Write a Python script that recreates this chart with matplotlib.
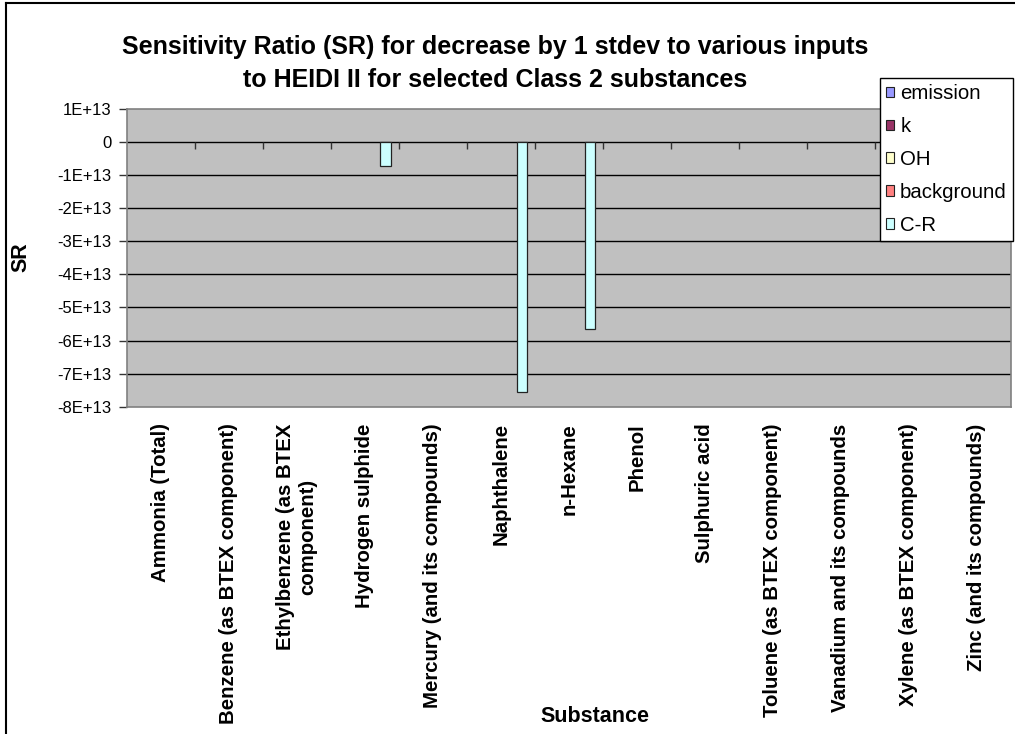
import matplotlib
matplotlib.use("Agg")
import matplotlib.pyplot as plt
from matplotlib.lines import Line2D
from matplotlib.patches import Patch
from matplotlib.ticker import FuncFormatter, FixedLocator
import numpy as np

plt.rcParams['font.family'] = ['Liberation Sans', 'DejaVu Sans']

substances = [
    "Ammonia (Total)",
    "Benzene (as BTEX component)",
    "Ethylbenzene (as BTEX\ncomponent)",
    "Hydrogen sulphide",
    "Mercury (and its compounds)",
    "Naphthalene",
    "n-Hexane",
    "Phenol",
    "Sulphuric acid",
    "Toluene (as BTEX component)",
    "Vanadium and its compounds",
    "Xylene (as BTEX component)",
    "Zinc (and its compounds)",
]

series_names = ["emission", "k", "OH", "background", "C-R"]
series_colors = ["#9999FF", "#993366", "#FFFFCC", "#FF8080", "#CCFFFF"]

emission = [0] * 13
k = [0] * 13
oh = [0] * 13
background = [0] * 13
c_r = [0, 0, 0, -0.71e13, 0, -7.55e13, -5.65e13, 0, 0, 0, 0, 0, 0]

series_values = [emission, k, oh, background, c_r]

W, H = 1015, 734
fig = plt.figure(figsize=(W / 100, H / 100), dpi=100)
fig.patch.set_facecolor("white")

# plot area in pixel coordinates
x0, x1, y0, y1 = 126.7, 1011, 109, 406.7
ax = fig.add_axes([x0 / W, 1 - y1 / H, (x1 - x0) / W, (y1 - y0) / H])
ax.set_facecolor("#C0C0C0")

n = len(substances)
idx = np.arange(n)
gap = 1.5
bw = 1.0 / (len(series_names) + gap)
for j, (name, vals, col) in enumerate(zip(series_names, series_values, series_colors)):
    centers = idx - 0.5 + gap * bw / 2 + (j + 0.5) * bw
    lws = [0.9 if v != 0 else 0 for v in vals]
    ax.bar(centers, vals, width=bw, color=col, edgecolor="#222222",
           linewidth=lws, zorder=3)

ax.set_xlim(-0.5, n - 0.5)
ax.set_ylim(-8e13, 1e13)

yt = np.arange(-8e13, 1.01e13, 1e13)
ax.yaxis.set_major_locator(FixedLocator(yt))


def sci_fmt(v, pos):
    if abs(v) < 1:
        return "0"
    e = int(np.floor(np.log10(abs(v)) + 1e-9))
    m = v / 10 ** e
    return f"{m:.0f}E+{e:02d}"


ax.yaxis.set_major_formatter(FuncFormatter(sci_fmt))
ax.tick_params(axis="y", direction="out", length=6, width=1, color="#333333",
               labelsize=12, pad=5)
for v in yt[1:-1]:
    ax.axhline(v, color="black", linewidth=1.0, zorder=1)

# category labels
ax.set_xticks(idx)
ax.set_xticklabels(substances, rotation=90, fontweight="bold", fontsize=14.7,
                   va="top", ha="center", multialignment="center")
ax.tick_params(axis="x", length=0, pad=12)

# category boundary tick marks on the zero line
ax.vlines(np.arange(1, n) - 0.5, 0, -0.2e13, color="#333333", linewidth=1, zorder=2)

for s in ax.spines.values():
    s.set_color("#808080")
    s.set_linewidth(1.2)

fig.text(595 / W, 1 - 716 / H, "Substance", ha="center", va="center",
         fontsize=15.5, fontweight="bold")
fig.text(21 / W, 1 - 257 / H, "SR", ha="center", va="center", rotation=90,
         fontsize=15.5, fontweight="bold")

title_lines = ["Sensitivity Ratio (SR) for decrease by 1 stdev to various inputs",
               "to HEIDI II for selected Class 2 substances"]
for line, yy in zip(title_lines, [47, 80]):
    fig.text(495 / W, 1 - yy / H, line, ha="center", va="center",
             fontsize=18, fontweight="bold")

# legend
handles = [Patch(facecolor=c, edgecolor="#222222", linewidth=0.8, label=nm)
           for nm, c in zip(series_names, series_colors)]
leg = fig.legend(handles=handles, loc="upper right",
                 bbox_to_anchor=(1013 / W, 1 - 78 / H), bbox_transform=fig.transFigure,
                 fontsize=14.7, frameon=True, fancybox=False, borderpad=0.3,
                 handlelength=0.4, handleheight=0.4, handletextpad=0.3,
                 labelspacing=0.68, borderaxespad=0)
leg.get_frame().set_edgecolor("black")
leg.get_frame().set_linewidth(1.0)
leg.get_frame().set_alpha(1)

# outer chart frame
fig.add_artist(Line2D([6 / W, 6 / W], [0, 1 - 3 / H], transform=fig.transFigure,
                      color="black", linewidth=1.5))
fig.add_artist(Line2D([6 / W, 1], [1 - 3 / H, 1 - 3 / H], transform=fig.transFigure,
                      color="black", linewidth=1.5))

fig.savefig("out.png", dpi=100)
